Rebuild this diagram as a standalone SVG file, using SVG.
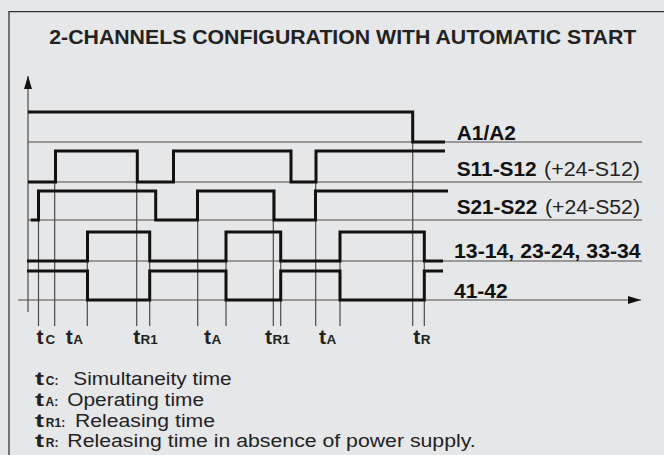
<svg xmlns="http://www.w3.org/2000/svg" width="664" height="455" viewBox="0 0 664 455">
<defs>
<style>
.bg{fill:#e6e7e9}
.frame{fill:none;stroke:#333;stroke-width:1.3}
.thin{fill:none;stroke:#4a4a4a;stroke-width:1.2}
.sig{fill:none;stroke:#111;stroke-width:3;stroke-linejoin:miter;stroke-linecap:butt}
.title{font-family:"Liberation Sans",Arial,sans-serif;font-weight:bold;font-size:20px;fill:#222}
.lb{font-family:"Liberation Sans",Arial,sans-serif;font-weight:bold;font-size:19.5px;fill:#111}
.lr{font-family:"Liberation Sans",Arial,sans-serif;font-size:19.5px;fill:#222}
.tt{font-family:"Liberation Sans",Arial,sans-serif;font-weight:bold;font-size:21px;fill:#222}
.ts{font-family:"Liberation Sans",Arial,sans-serif;font-weight:bold;font-size:13.5px;fill:#222}
.gt{font-family:"Liberation Sans",Arial,sans-serif;font-weight:bold;font-size:18.5px;fill:#222}
.gs{font-family:"Liberation Sans",Arial,sans-serif;font-weight:bold;font-size:12px;fill:#222}
.gx{font-family:"Liberation Sans",Arial,sans-serif;font-size:17.5px;fill:#222}
</style>
<marker id="arr" markerUnits="userSpaceOnUse" markerWidth="14" markerHeight="9" refX="13" refY="4" orient="auto">
<path d="M0,0 L13,4 L0,8 Z" fill="#111"/>
</marker>
</defs>
<rect class="bg" x="0" y="0" width="664" height="455"/>
<g id="frame">
<path class="frame" d="M9,455 V11.7 H664"/>
</g>
<g id="title">
<text class="title" x="49.3" y="44.3" textLength="587" lengthAdjust="spacingAndGlyphs">2-CHANNELS CONFIGURATION WITH AUTOMATIC START</text>
</g>
<g id="connectors">
<g id="axes">
<line class="thin" x1="28" y1="312" x2="28" y2="76" marker-end="url(#arr)"/>
<line class="thin" x1="18" y1="300" x2="641" y2="300" marker-end="url(#arr)"/>
</g>
<g id="baselines">
<line class="thin" x1="28" y1="142" x2="642" y2="142"/>
<line class="thin" x1="28" y1="182" x2="642" y2="182"/>
<line class="thin" x1="28" y1="220" x2="642" y2="220"/>
<line class="thin" x1="27" y1="261" x2="642" y2="261"/>
</g>
<g id="markers">
<line class="thin" x1="38.5" y1="191" x2="38.5" y2="326"/>
<line class="thin" x1="54.7" y1="151" x2="54.7" y2="326"/>
<line class="thin" x1="87.3" y1="232" x2="87.3" y2="326"/>
<line class="thin" x1="136.7" y1="151" x2="136.7" y2="326"/>
<line class="thin" x1="149.7" y1="232" x2="149.7" y2="326"/>
<line class="thin" x1="197.7" y1="191" x2="197.7" y2="326"/>
<line class="thin" x1="226" y1="232" x2="226" y2="326"/>
<line class="thin" x1="273.3" y1="191" x2="273.3" y2="326"/>
<line class="thin" x1="280.7" y1="232" x2="280.7" y2="326"/>
<line class="thin" x1="315.7" y1="151" x2="315.7" y2="326"/>
<line class="thin" x1="340" y1="232" x2="340" y2="326"/>
<line class="thin" x1="412.7" y1="112" x2="412.7" y2="326"/>
<line class="thin" x1="424.3" y1="232" x2="424.3" y2="326"/>
</g>
</g>
<g id="sig-a1a2">
<path class="sig" d="M28,112 H412.7 V142 H445"/>
<text class="lb" x="456.7" y="140" textLength="59.3" lengthAdjust="spacingAndGlyphs">A1/A2</text>
</g>
<g id="sig-s11s12">
<path class="sig" d="M28,182 H55.5 V151 H137.3 V182 H173.5 V151 H291 V182 H316 V151 H445"/>
<text class="lb" x="456.7" y="175.5" textLength="80" lengthAdjust="spacingAndGlyphs">S11-S12</text>
<text class="lr" x="544" y="175.5" textLength="96" lengthAdjust="spacingAndGlyphs">(+24-S12)</text>
</g>
<g id="sig-s21s22">
<path class="sig" d="M30.7,220 H38.5 V191 H155.7 V220 H197.5 V191 H274 V220 H315.5 V191 H448"/>
<text class="lb" x="456.7" y="213.5" textLength="80.6" lengthAdjust="spacingAndGlyphs">S21-S22</text>
<text class="lr" x="545" y="213.5" textLength="95" lengthAdjust="spacingAndGlyphs">(+24-S52)</text>
</g>
<g id="sig-13-14">
<path class="sig" d="M27,261 H87.5 V232 H149.7 V261 H226 V232 H280.7 V261 H340 V232 H424.3 V261 H443"/>
<text class="lb" x="454" y="257.7" textLength="186.7" lengthAdjust="spacingAndGlyphs">13-14, 23-24, 33-34</text>
</g>
<g id="sig-41-42">
<path class="sig" d="M27,271 H87.5 V300 H149.7 V271 H226 V300 H280.7 V271 H340 V300 H424.3 V271 H443"/>
<text class="lb" x="454" y="297.7" textLength="53.7" lengthAdjust="spacingAndGlyphs">41-42</text>
</g>
<g id="time-labels">
<text x="36.5" y="344.3"><tspan class="tt">t</tspan><tspan class="ts" x="45.5">C</tspan></text>
<text x="65.7" y="344.3"><tspan class="tt">t</tspan><tspan class="ts" x="73.3">A</tspan></text>
<text x="133.3" y="344.3"><tspan class="tt">t</tspan><tspan class="ts" x="140.5">R1</tspan></text>
<text x="204" y="344.3"><tspan class="tt">t</tspan><tspan class="ts" x="211.5">A</tspan></text>
<text x="265" y="344.3"><tspan class="tt">t</tspan><tspan class="ts" x="272.5">R1</tspan></text>
<text x="319" y="344.3"><tspan class="tt">t</tspan><tspan class="ts" x="326.5">A</tspan></text>
<text x="413.3" y="344.3"><tspan class="tt">t</tspan><tspan class="ts" x="420.8">R</tspan></text>
</g>
<g id="legend">
<text y="385"><tspan class="gt" x="35" textLength="9" lengthAdjust="spacingAndGlyphs">t</tspan><tspan class="gs" x="45.8">C:</tspan><tspan class="gx" x="73.3" textLength="158.4" lengthAdjust="spacingAndGlyphs">Simultaneity time</tspan></text>
<text y="405.8"><tspan class="gt" x="35" textLength="9" lengthAdjust="spacingAndGlyphs">t</tspan><tspan class="gs" x="45.5">A:</tspan><tspan class="gx" x="67.3" textLength="136.7" lengthAdjust="spacingAndGlyphs">Operating time</tspan></text>
<text y="426.6"><tspan class="gt" x="35" textLength="9" lengthAdjust="spacingAndGlyphs">t</tspan><tspan class="gs" x="45.8">R1:</tspan><tspan class="gx" x="75" textLength="140" lengthAdjust="spacingAndGlyphs">Releasing time</tspan></text>
<text y="447.4"><tspan class="gt" x="35" textLength="9" lengthAdjust="spacingAndGlyphs">t</tspan><tspan class="gs" x="45.8">R:</tspan><tspan class="gx" x="67.3" textLength="408.4" lengthAdjust="spacingAndGlyphs">Releasing time in absence of power supply.</tspan></text>
</g>
</svg>
